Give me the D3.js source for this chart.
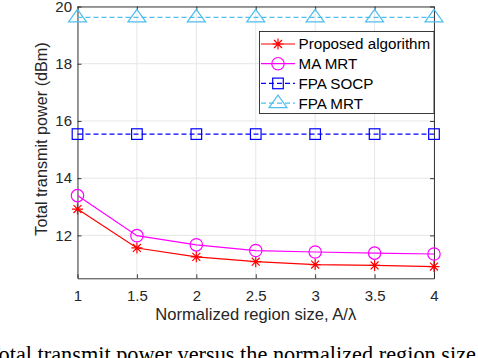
<!DOCTYPE html>
<html>
<head>
<meta charset="utf-8">
<script src="https://cdn.jsdelivr.net/npm/d3@7.9.0/dist/d3.min.js"></script>
<style>
  body { margin: 0; background: #fff; }
  svg { display: block; }
  text { font-family: "Liberation Sans", Arial, sans-serif; fill: #262626; }
</style>
</head>
<body>
<div id="chart"></div>
<script>
// region sizes A/lambda
const regionSizes = [1, 1.5, 2, 2.5, 3, 3.5, 4];
const proposed = [12.92, 11.56, 11.25, 11.08, 10.98, 10.95, 10.91];
const maMrt = [13.39, 11.99, 11.67, 11.47, 11.42, 11.38, 11.35];
const fpaSocp = [15.54, 15.54, 15.54, 15.54, 15.54, 15.54, 15.54];
const fpaMrt = [19.62, 19.62, 19.62, 19.62, 19.62, 19.62, 19.62];
const yTicks = [12, 14, 16, 18, 20];

const seriesNames = ["Proposed algorithm", "MA MRT", "FPA SOCP", "FPA MRT"];
const seriesValues = [proposed, maMrt, fpaSocp, fpaMrt];

const width = 478;
const height = 358;
const margin = { top: 6.5, right: 44, bottom: 79.7, left: 77.5 };

const styles = [
  { color: "#ff0000", dash: null, marker: "star" },
  { color: "#ff00ff", dash: null, marker: "circle" },
  { color: "#0000ff", dash: "5,3", marker: "square" },
  { color: "#4dbeee", dash: "5,3", marker: "triangle" }
];

const svg = d3.select("#chart")
  .append("svg")
  .attr("width", width)
  .attr("height", height);

const x = d3.scaleLinear()
  .domain([1, 4])
  .range([margin.left, width - margin.right]);

const y = d3.scaleLinear()
  .domain([10.5, 20])
  .range([height - margin.bottom, margin.top]);

const plotLeft = x.range()[0], plotRight = x.range()[1];
const plotTop = y.range()[1], plotBottom = y.range()[0];

// gridlines
const grid = svg.append("g").attr("stroke", "#e6e6e6").attr("stroke-width", 1);
grid.selectAll(".gx")
  .data(regionSizes)
  .join("line")
  .attr("x1", d => x(d)).attr("x2", d => x(d))
  .attr("y1", plotTop).attr("y2", plotBottom);
grid.selectAll(".gy")
  .data(yTicks)
  .join("line")
  .attr("x1", plotLeft).attr("x2", plotRight)
  .attr("y1", d => y(d)).attr("y2", d => y(d));

// axes
const xAxis = d3.axisBottom(x).tickValues(regionSizes).tickFormat(d => d)
  .tickSizeInner(-4).tickSizeOuter(0).tickPadding(12.4);
const yAxis = d3.axisLeft(y).tickValues(yTicks).tickFormat(d => d)
  .tickSizeInner(-4).tickSizeOuter(0).tickPadding(5.5);

svg.append("g")
  .attr("transform", `translate(0,${plotBottom})`)
  .call(xAxis);
svg.append("g")
  .attr("transform", `translate(${plotLeft},0)`)
  .call(yAxis);

// top and right box with ticks
svg.append("g")
  .attr("transform", `translate(0,${plotTop})`)
  .call(d3.axisTop(x).tickValues(regionSizes).tickSizeInner(-4).tickSizeOuter(0).tickFormat(""));
svg.append("g")
  .attr("transform", `translate(${plotRight},0)`)
  .call(d3.axisRight(y).tickValues(yTicks).tickSizeInner(-4).tickSizeOuter(0).tickFormat(""));

svg.selectAll(".domain, .tick line").attr("stroke", "#262626").attr("stroke-width", 0.9);
svg.selectAll(".tick text")
  .style("font-size", "15px")
  .style("font-family", "'Liberation Sans', Arial, sans-serif")
  .attr("fill", "#262626");

// axis labels
svg.append("text")
  .attr("x", (plotLeft + plotRight) / 2)
  .attr("y", 319.5)
  .attr("text-anchor", "middle")
  .style("font-size", "16.6px")
  .text("Normalized region size, A/\u03bb");

svg.append("text")
  .attr("transform", "rotate(-90)")
  .attr("x", -139)
  .attr("y", 47)
  .attr("text-anchor", "middle")
  .style("font-size", "16.2px")
  .text("Total transmit power (dBm)");

// marker drawing
function drawMarker(g, type, color) {
  if (type === "star") {
    const s = 5.5, d = s * 0.72;
    g.append("path")
      .attr("d", `M${-s},0L${s},0M0,${-s}L0,${s}M${-d},${-d}L${d},${d}M${-d},${d}L${d},${-d}`)
      .attr("stroke", color).attr("stroke-width", 1.2).attr("fill", "none");
  } else if (type === "circle") {
    g.append("circle").attr("r", 6.2)
      .attr("stroke", color).attr("stroke-width", 1.2).attr("fill", "none");
  } else if (type === "square") {
    g.append("rect").attr("x", -5.3).attr("y", -5.3).attr("width", 10.6).attr("height", 10.6)
      .attr("stroke", color).attr("stroke-width", 1.2).attr("fill", "none");
  } else if (type === "triangle") {
    g.append("path").attr("d", "M0,-8L9,4.5L-9,4.5Z")
      .attr("stroke", color).attr("stroke-width", 1.2).attr("fill", "none");
  }
}

const line = d3.line()
  .x((d, i) => x(regionSizes[i]))
  .y(d => y(d));

seriesValues.forEach((vals, k) => {
  const st = styles[k];
  svg.append("path")
    .datum(vals)
    .attr("d", line)
    .attr("fill", "none")
    .attr("stroke", st.color)
    .attr("stroke-width", 1.2)
    .attr("stroke-dasharray", st.dash);
  vals.forEach((v, i) => {
    const g = svg.append("g").attr("transform", `translate(${x(regionSizes[i])},${y(v)})`);
    drawMarker(g, st.marker, st.color);
  });
});

// legend
const legend = svg.append("g");
legend.append("rect")
  .attr("x", 259.5).attr("y", 31.5)
  .attr("width", 174.5).attr("height", 82)
  .attr("fill", "#fff")
  .attr("stroke", "#262626")
  .attr("stroke-width", 0.9);

seriesNames.forEach((name, k) => {
  const st = styles[k];
  const cy = 44 + k * 19.7;
  legend.append("line")
    .attr("x1", 261).attr("x2", 295)
    .attr("y1", cy).attr("y2", cy)
    .attr("stroke", st.color)
    .attr("stroke-width", 1.2)
    .attr("stroke-dasharray", st.dash);
  const g = legend.append("g").attr("transform", `translate(278,${cy})`);
  drawMarker(g, st.marker, st.color);
  legend.append("text")
    .attr("x", 298.5)
    .attr("y", cy)
    .attr("dy", "0.36em")
    .style("font-size", "15.2px")
    .style("fill", "#000")
    .text(name);
});

// caption (cut at bottom, as in the source image)
svg.append("text")
  .attr("x", -13.5)
  .attr("y", 362)
  .style("font-family", "'Liberation Serif', 'Times New Roman', serif")
  .style("font-size", "22.3px")
  .style("fill", "#000")
  .text("Total transmit power versus the normalized region size");
</script>
</body>
</html>
